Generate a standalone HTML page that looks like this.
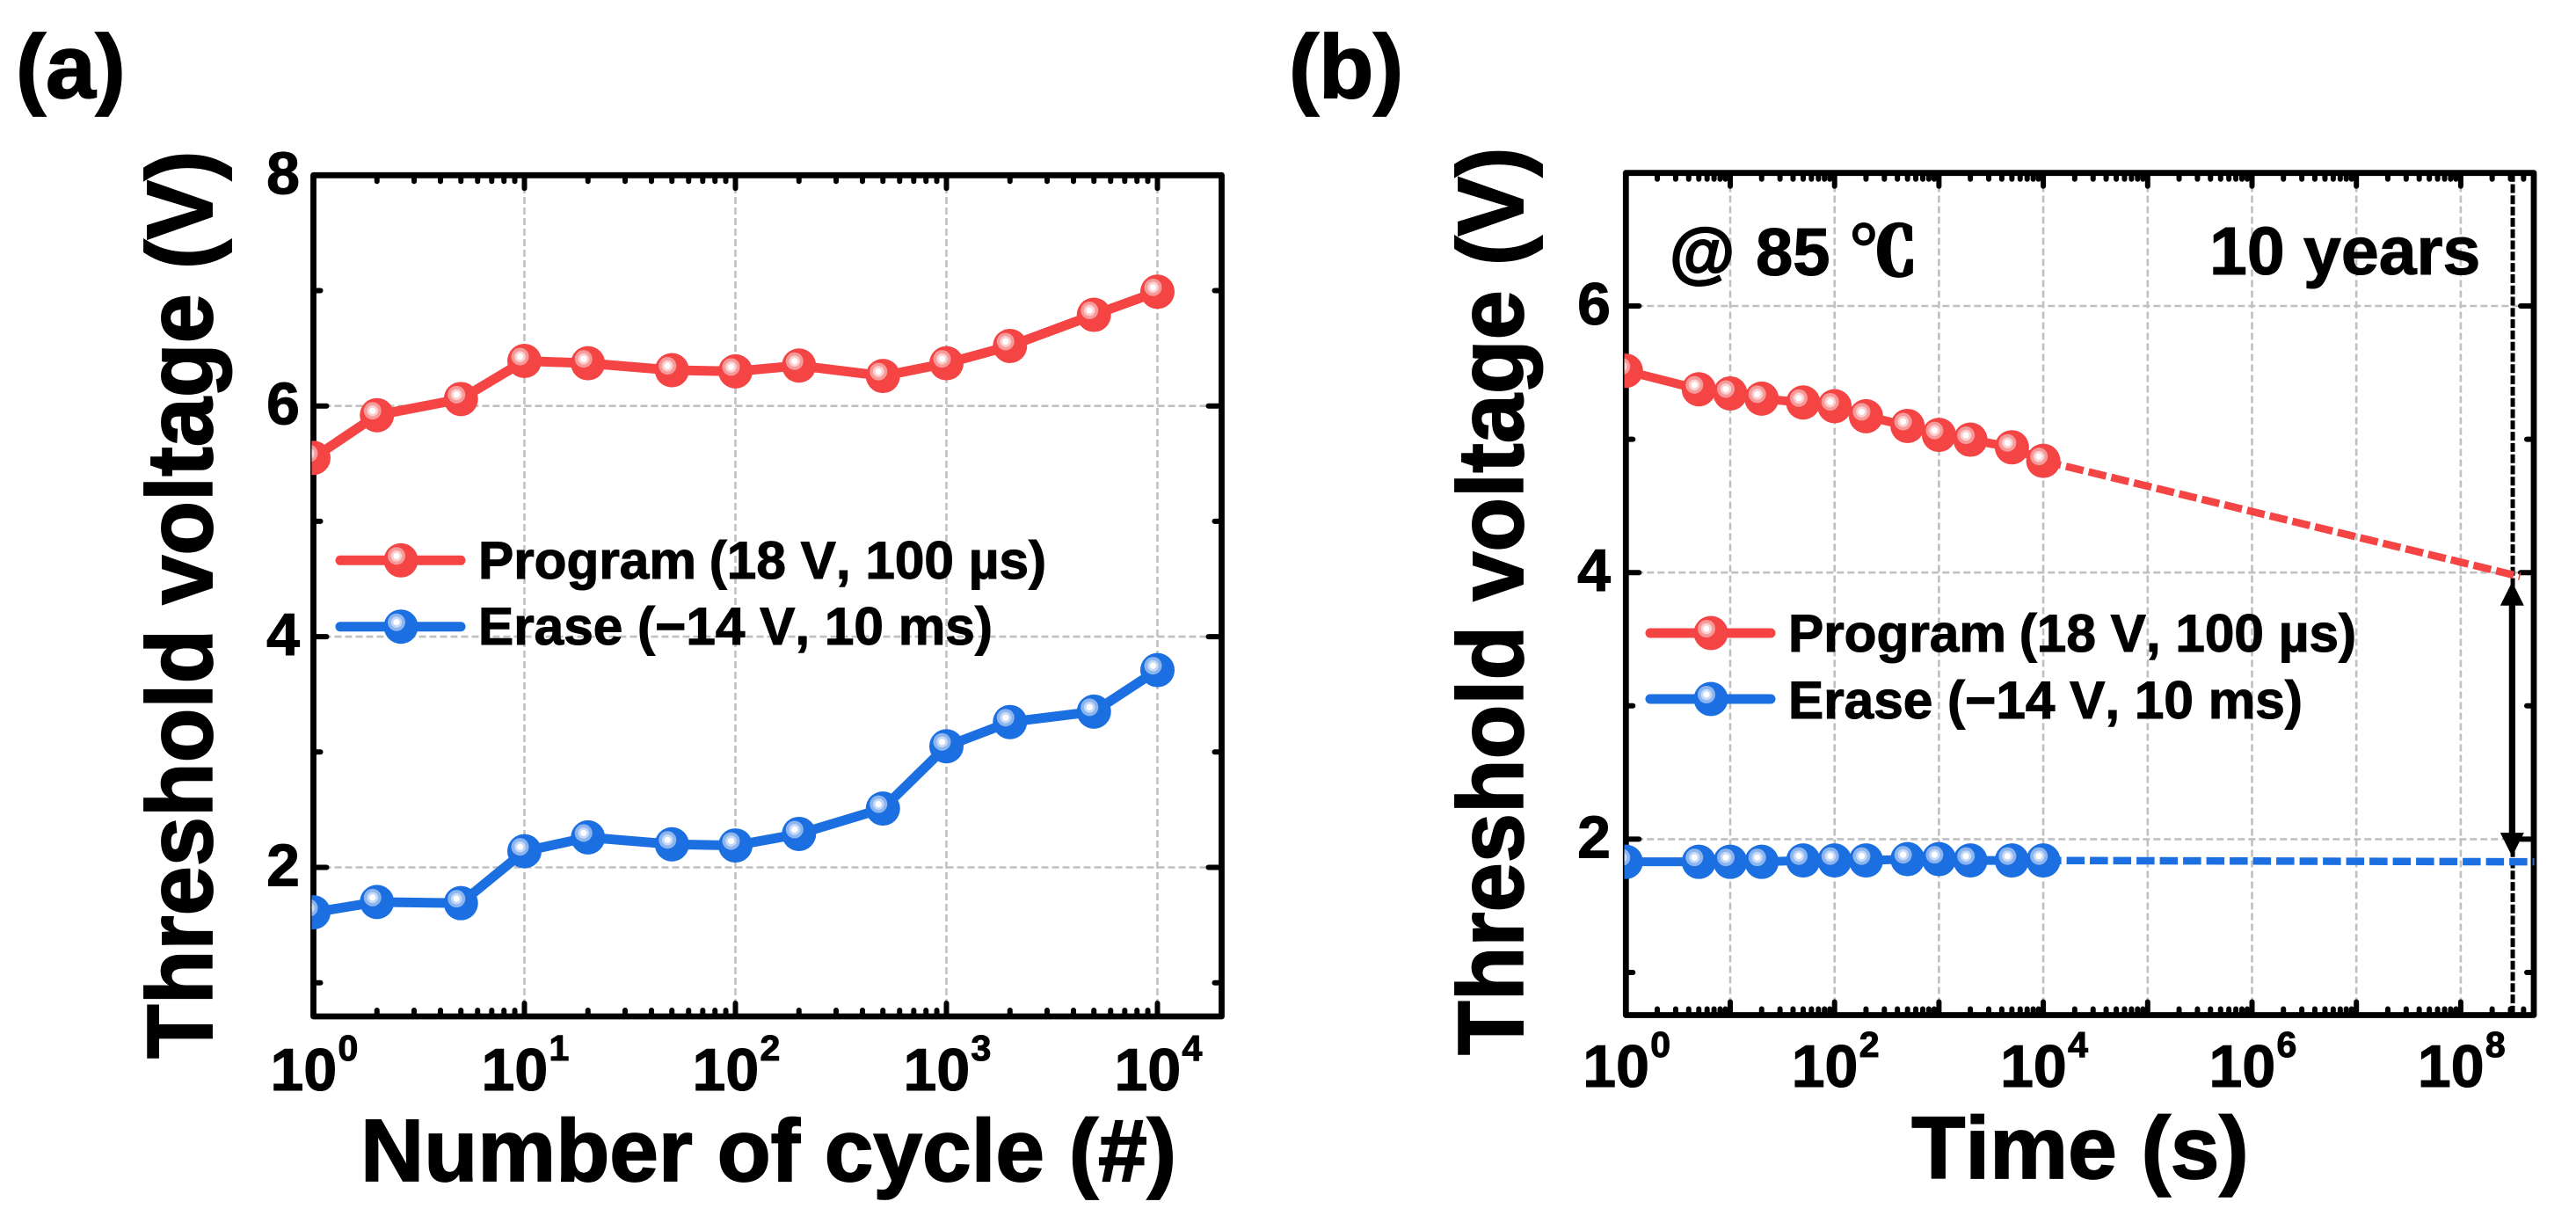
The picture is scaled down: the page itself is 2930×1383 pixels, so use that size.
<!DOCTYPE html>
<html lang="en">
<head>
<meta charset="utf-8">
<title>Threshold voltage endurance and retention</title>
<style>
html,body{margin:0;padding:0;background:#fff;}
svg{display:block;}
text{font-family:"Liberation Sans","Noto Sans CJK SC",sans-serif;font-weight:bold;fill:#000;stroke:#000;stroke-width:1.1px;font-kerning:none;paint-order:stroke;}
.title{stroke-width:1.8px;}
.deg{font-family:"Noto Serif CJK SC","Liberation Serif",serif;font-weight:900;stroke-width:3px;}
</style>
</head>
<body>
<svg id="figure" xmlns="http://www.w3.org/2000/svg" width="2930" height="1383" viewBox="0 0 2930 1383">
  <defs>
    <clipPath id="clipA"><rect x="354.5" y="150" width="1035" height="1010"/></clipPath>
    <clipPath id="clipB"><rect x="1847.5" y="150" width="1035" height="1010"/></clipPath>
  </defs>
  <rect x="0" y="0" width="2930" height="1383" fill="#fff"/>

  <g id="panelA"></g>
  <g id="panelB"></g>

  <text class="title" x="18" y="111" font-size="102">(a)</text>
  <text class="title" x="1466" y="111" font-size="102">(b)</text>

  <text class="title" font-size="101" transform="translate(241,1204) rotate(-90) scale(1,1.05)">Threshold voltage (V)</text>
  <text class="title" font-size="101" transform="translate(1732,1200) rotate(-90) scale(1,1.05)">Threshold voltage (V)</text>
  <text class="title" x="874" y="1343" font-size="100" text-anchor="middle">Number of cycle (#)</text>
  <text class="title" x="2366" y="1340" font-size="100" text-anchor="middle">Time (s)</text>

  <text font-size="76" y="313"><tspan x="1899" style="stroke-width:2px">@</tspan><tspan x="1997">85</tspan><tspan class="deg" x="2104">℃</tspan></text>
  <text x="2513" y="312" font-size="77">10 years</text>

  <g id="legendA">
    <text x="544" y="658" font-size="60.3">Program<tspan dx="-2"> (18 V, 100 µs)</tspan></text>
    <text x="544" y="733" font-size="60.3">Erase (−14 V, 10 ms)</text>
  </g>
  <g id="legendB">
    <text x="2034" y="741" font-size="60.3">Program<tspan dx="-2"> (18 V, 100 µs)</tspan></text>
    <text x="2034" y="817" font-size="60.3">Erase (−14 V, 10 ms)</text>
  </g>
</svg>

<script>
// Panel (a) data
const cyclesA = [1, 2, 5, 10, 20, 50, 100, 200, 500, 1000, 2000, 5000, 10000];
const programA = [5.55, 5.92, 6.06, 6.39, 6.37, 6.31, 6.30, 6.35, 6.26, 6.37, 6.52, 6.79, 6.99];
const eraseA = [1.61, 1.70, 1.69, 2.14, 2.26, 2.20, 2.19, 2.29, 2.51, 3.05, 3.26, 3.35, 3.71];
const xTickExponentsA = [0, 1, 2, 3, 4];
const xLabelExponentsA = [0, 1, 2, 3, 4];
const yMajorTicksA = [2, 4, 6, 8];
const yMinorTicksA = [1, 3, 5, 7];

// Panel (b) data
const timesB = [1, 5, 10, 20, 50, 100, 200, 500, 1000, 2000, 5000, 10000];
const programB = [5.514, 5.375, 5.344, 5.305, 5.276, 5.248, 5.173, 5.10, 5.033, 4.997, 4.94, 4.838];
const eraseB = [1.83, 1.83, 1.83, 1.83, 1.84, 1.84, 1.84, 1.85, 1.85, 1.84, 1.84, 1.84];
const extrapTimesProgram = [10000, 370000000];
const extrapProgram = [4.838, 3.97];
const extrapTimesErase = [10000, 513000000];
const extrapErase = [1.84, 1.83];
const xTickExponentsB = [0, 1, 2, 3, 4, 5, 6, 7, 8];
const xLabelExponentsB = [0, 2, 4, 6, 8];
const yMajorTicksB = [2, 4, 6];
const yMinorTicksB = [1, 3, 5];
const tenYears = 315000000;
const arrowTopValue = 3.93;
const arrowBottomValue = 1.87;

const NS = 'http://www.w3.org/2000/svg';
function make(parent, tag, attrs) {
  const el = document.createElementNS(NS, tag);
  for (const k in attrs) el.setAttribute(k, attrs[k]);
  parent.appendChild(el);
  return el;
}

const RED = '#f44444', BLUE = '#1b6fe0';
const redRings = ['#f79a9a', '#fcd0d0', '#ffffff'];
const blueRings = ['#8db5ef', '#c5d9f8', '#ffffff'];

function drawMarker(g, cx, cy, color, rings, label) {
  const m = make(g, 'g', {});
  
  
  make(m, 'circle', {cx: cx, cy: cy, r: 19.5, fill: color});
  make(m, 'circle', {cx: cx - 5, cy: cy - 5, r: 10, fill: rings[0]});
  make(m, 'circle', {cx: cx - 5, cy: cy - 5, r: 6.3, fill: rings[1]});
  make(m, 'circle', {cx: cx - 5, cy: cy - 5, r: 3.6, fill: rings[2]});
}

function drawAxes(g, cfg) {
  const x = cfg.x, y = cfg.y, L = cfg.left, R = cfg.right, T = cfg.top, B = cfg.bottom;

  // grid
  const grid = make(g, 'g', {stroke: '#c0c0c0', 'stroke-width': 2.6, 'stroke-dasharray': '8 4', fill: 'none'});
  
  
  cfg.xExp.forEach(function (e) {
    if (e === 0) return;
    const px = x(Math.pow(10, e));
    const ln = make(grid, 'line', {x1: px, x2: px, y1: B, y2: T});
    
    
  });
  cfg.yMajor.forEach(function (v) {
    const py = y(v);
    if (py <= T + 1) return;
    const ln = make(grid, 'line', {x1: L, x2: R, y1: py, y2: py});
    
    
  });

  // ticks
  const ticks = make(g, 'g', {stroke: '#000', 'stroke-width': 6, 'stroke-linecap': 'round', fill: 'none'});
  
  
  cfg.xExp.forEach(function (e) {
    const base = Math.pow(10, e);
    const px = x(base);
    if (e !== 0) {
      const a = make(ticks, 'line', {x1: px, x2: px, y1: B, y2: B - 15});
      
      
      const b = make(ticks, 'line', {x1: px, x2: px, y1: T, y2: T + 15});
      
      
    }
    for (let m = 2; m <= 9; m++) {
      const mx = x(base * m);
      if (mx >= R - 6) continue;
      const a = make(ticks, 'line', {x1: mx, x2: mx, y1: B, y2: B - 7});
      
      
      const b = make(ticks, 'line', {x1: mx, x2: mx, y1: T, y2: T + 7});
      
      
    }
  });
  cfg.yMajor.forEach(function (v) {
    const py = y(v);
    if (py <= T + 1) return;
    const a = make(ticks, 'line', {x1: L, x2: L + 15, y1: py, y2: py});
    
    
    const b = make(ticks, 'line', {x1: R, x2: R - 15, y1: py, y2: py});
    
    
  });
  cfg.yMinor.forEach(function (v) {
    const py = y(v);
    const a = make(ticks, 'line', {x1: L, x2: L + 8, y1: py, y2: py});
    
    
    const b = make(ticks, 'line', {x1: R, x2: R - 8, y1: py, y2: py});
    
    
  });

  // frame
  const frame = make(g, 'rect', {x: L, y: T, width: R - L, height: B - T, fill: 'none', stroke: '#000', 'stroke-width': 6.8, 'stroke-linejoin': 'round'});
  
  

  // tick labels
  cfg.yMajor.forEach(function (v) {
    const t = make(g, 'text', {x: cfg.yLabelX, y: y(v) + 21, 'font-size': 68, 'text-anchor': 'end'});
    
    
    t.textContent = String(v);
  });
  cfg.xLabels.forEach(function (e) {
    const px = x(Math.pow(10, e));
    const t = make(g, 'text', {x: px - 49, y: cfg.xLabelY, 'font-size': 68});
    
    
    t.textContent = '10';
    const s = make(g, 'text', {x: px + 28, y: cfg.xLabelY - 34, 'font-size': 41});
    
    
    s.textContent = String(e);
  });
}

function drawSeries(g, xs, ys, x, y, color, rings, width, name) {
  const s = make(g, 'g', {});
  
  
  const pts = xs.map(function (t, i) { return x(t).toFixed(2) + ',' + y(ys[i]).toFixed(2); }).join(' ');
  const line = make(s, 'polyline', {points: pts, fill: 'none', stroke: color, 'stroke-width': width, 'stroke-linejoin': 'round'});
  
  
  xs.forEach(function (t, i) {
    drawMarker(s, x(t), y(ys[i]), color, rings, name + '-point');
  });
}

function drawDashed(g, xs, ys, x, y, color, name) {
  const pts = xs.map(function (t, i) { return x(t).toFixed(2) + ',' + y(ys[i]).toFixed(2); }).join(' ');
  const d = make(g, 'polyline', {points: pts, fill: 'none', stroke: color, 'stroke-width': 8.5, 'stroke-dasharray': '20.5 6'});
  
  
}

function drawLegendEntry(g, dx, dy, color, rings, name) {
  const ln = make(g, 'line', {x1: 387 + dx, x2: 524 + dx, y1: dy, y2: dy, stroke: color, 'stroke-width': 11, 'stroke-linecap': 'round'});
  
  
  drawMarker(g, 456 + dx, dy, color, rings, name + '-marker');
}

// Panel (a)
function xA(t) { return 356.5 + 240 * Math.log10(t); }
function yA(v) { return 199.3 + (8 - v) * 131.2; }
const gA = document.getElementById('panelA');
drawAxes(gA, {
  x: xA, y: yA, left: 356.5, right: 1389.5, top: 199.3, bottom: 1156,
  xExp: xTickExponentsA, xLabels: xLabelExponentsA, yMajor: yMajorTicksA, yMinor: yMinorTicksA,
  yLabelX: 341, xLabelY: 1240
});
const dataA = make(gA, 'g', {'clip-path': 'url(#clipA)'});


drawSeries(dataA, cyclesA, programA, xA, yA, RED, redRings, 11, 'program-a');
drawSeries(dataA, cyclesA, eraseA, xA, yA, BLUE, blueRings, 11, 'erase-a');

// Panel (b)
function xB(t) { return 1849.3 + 118.7 * Math.log10(t); }
function yB(v) { return 348 + (6 - v) * 151.6; }
const gB = document.getElementById('panelB');
drawAxes(gB, {
  x: xB, y: yB, left: 1849.3, right: 2882, top: 196.7, bottom: 1154.5,
  xExp: xTickExponentsB, xLabels: xLabelExponentsB, yMajor: yMajorTicksB, yMinor: yMinorTicksB,
  yLabelX: 1832, xLabelY: 1236
});
const tenLine = make(gB, 'line', {x1: xB(tenYears), x2: xB(tenYears), y1: 196.7, y2: 1154.5, stroke: '#000', 'stroke-width': 5, 'stroke-dasharray': '10 2.8'});



const dataB = make(gB, 'g', {'clip-path': 'url(#clipB)'});


drawDashed(dataB, extrapTimesProgram, extrapProgram, xB, yB, RED, 'program-extrapolation');
drawDashed(dataB, extrapTimesErase, extrapErase, xB, yB, BLUE, 'erase-extrapolation');
drawSeries(dataB, timesB, programB, xB, yB, RED, redRings, 10, 'program-b');
drawSeries(dataB, timesB, eraseB, xB, yB, BLUE, blueRings, 10, 'erase-b');

// Memory window arrow
const arrowX = xB(tenYears) - 0.7;
const arrowTop = yB(arrowTopValue);
const arrowBottom = yB(arrowBottomValue);
const arrow = make(gB, 'g', {fill: '#000'});


make(arrow, 'rect', {x: arrowX - 3.6, y: arrowTop + 20, width: 7.2, height: arrowBottom - arrowTop - 40});
make(arrow, 'polygon', {points: arrowX + ',' + arrowTop + ' ' + (arrowX + 13.5) + ',' + (arrowTop + 27) + ' ' + (arrowX - 13.5) + ',' + (arrowTop + 27)});
make(arrow, 'polygon', {points: arrowX + ',' + arrowBottom + ' ' + (arrowX + 13.5) + ',' + (arrowBottom - 27) + ' ' + (arrowX - 13.5) + ',' + (arrowBottom - 27)});

// Legends
const legA = document.getElementById('legendA');
drawLegendEntry(legA, 0, 637.3, RED, redRings, 'legend-a-program');
drawLegendEntry(legA, 0, 712.7, BLUE, blueRings, 'legend-a-erase');
const legB = document.getElementById('legendB');
drawLegendEntry(legB, 1490, 720, RED, redRings, 'legend-b-program');
drawLegendEntry(legB, 1490, 795, BLUE, blueRings, 'legend-b-erase');
</script>
</body>
</html>
